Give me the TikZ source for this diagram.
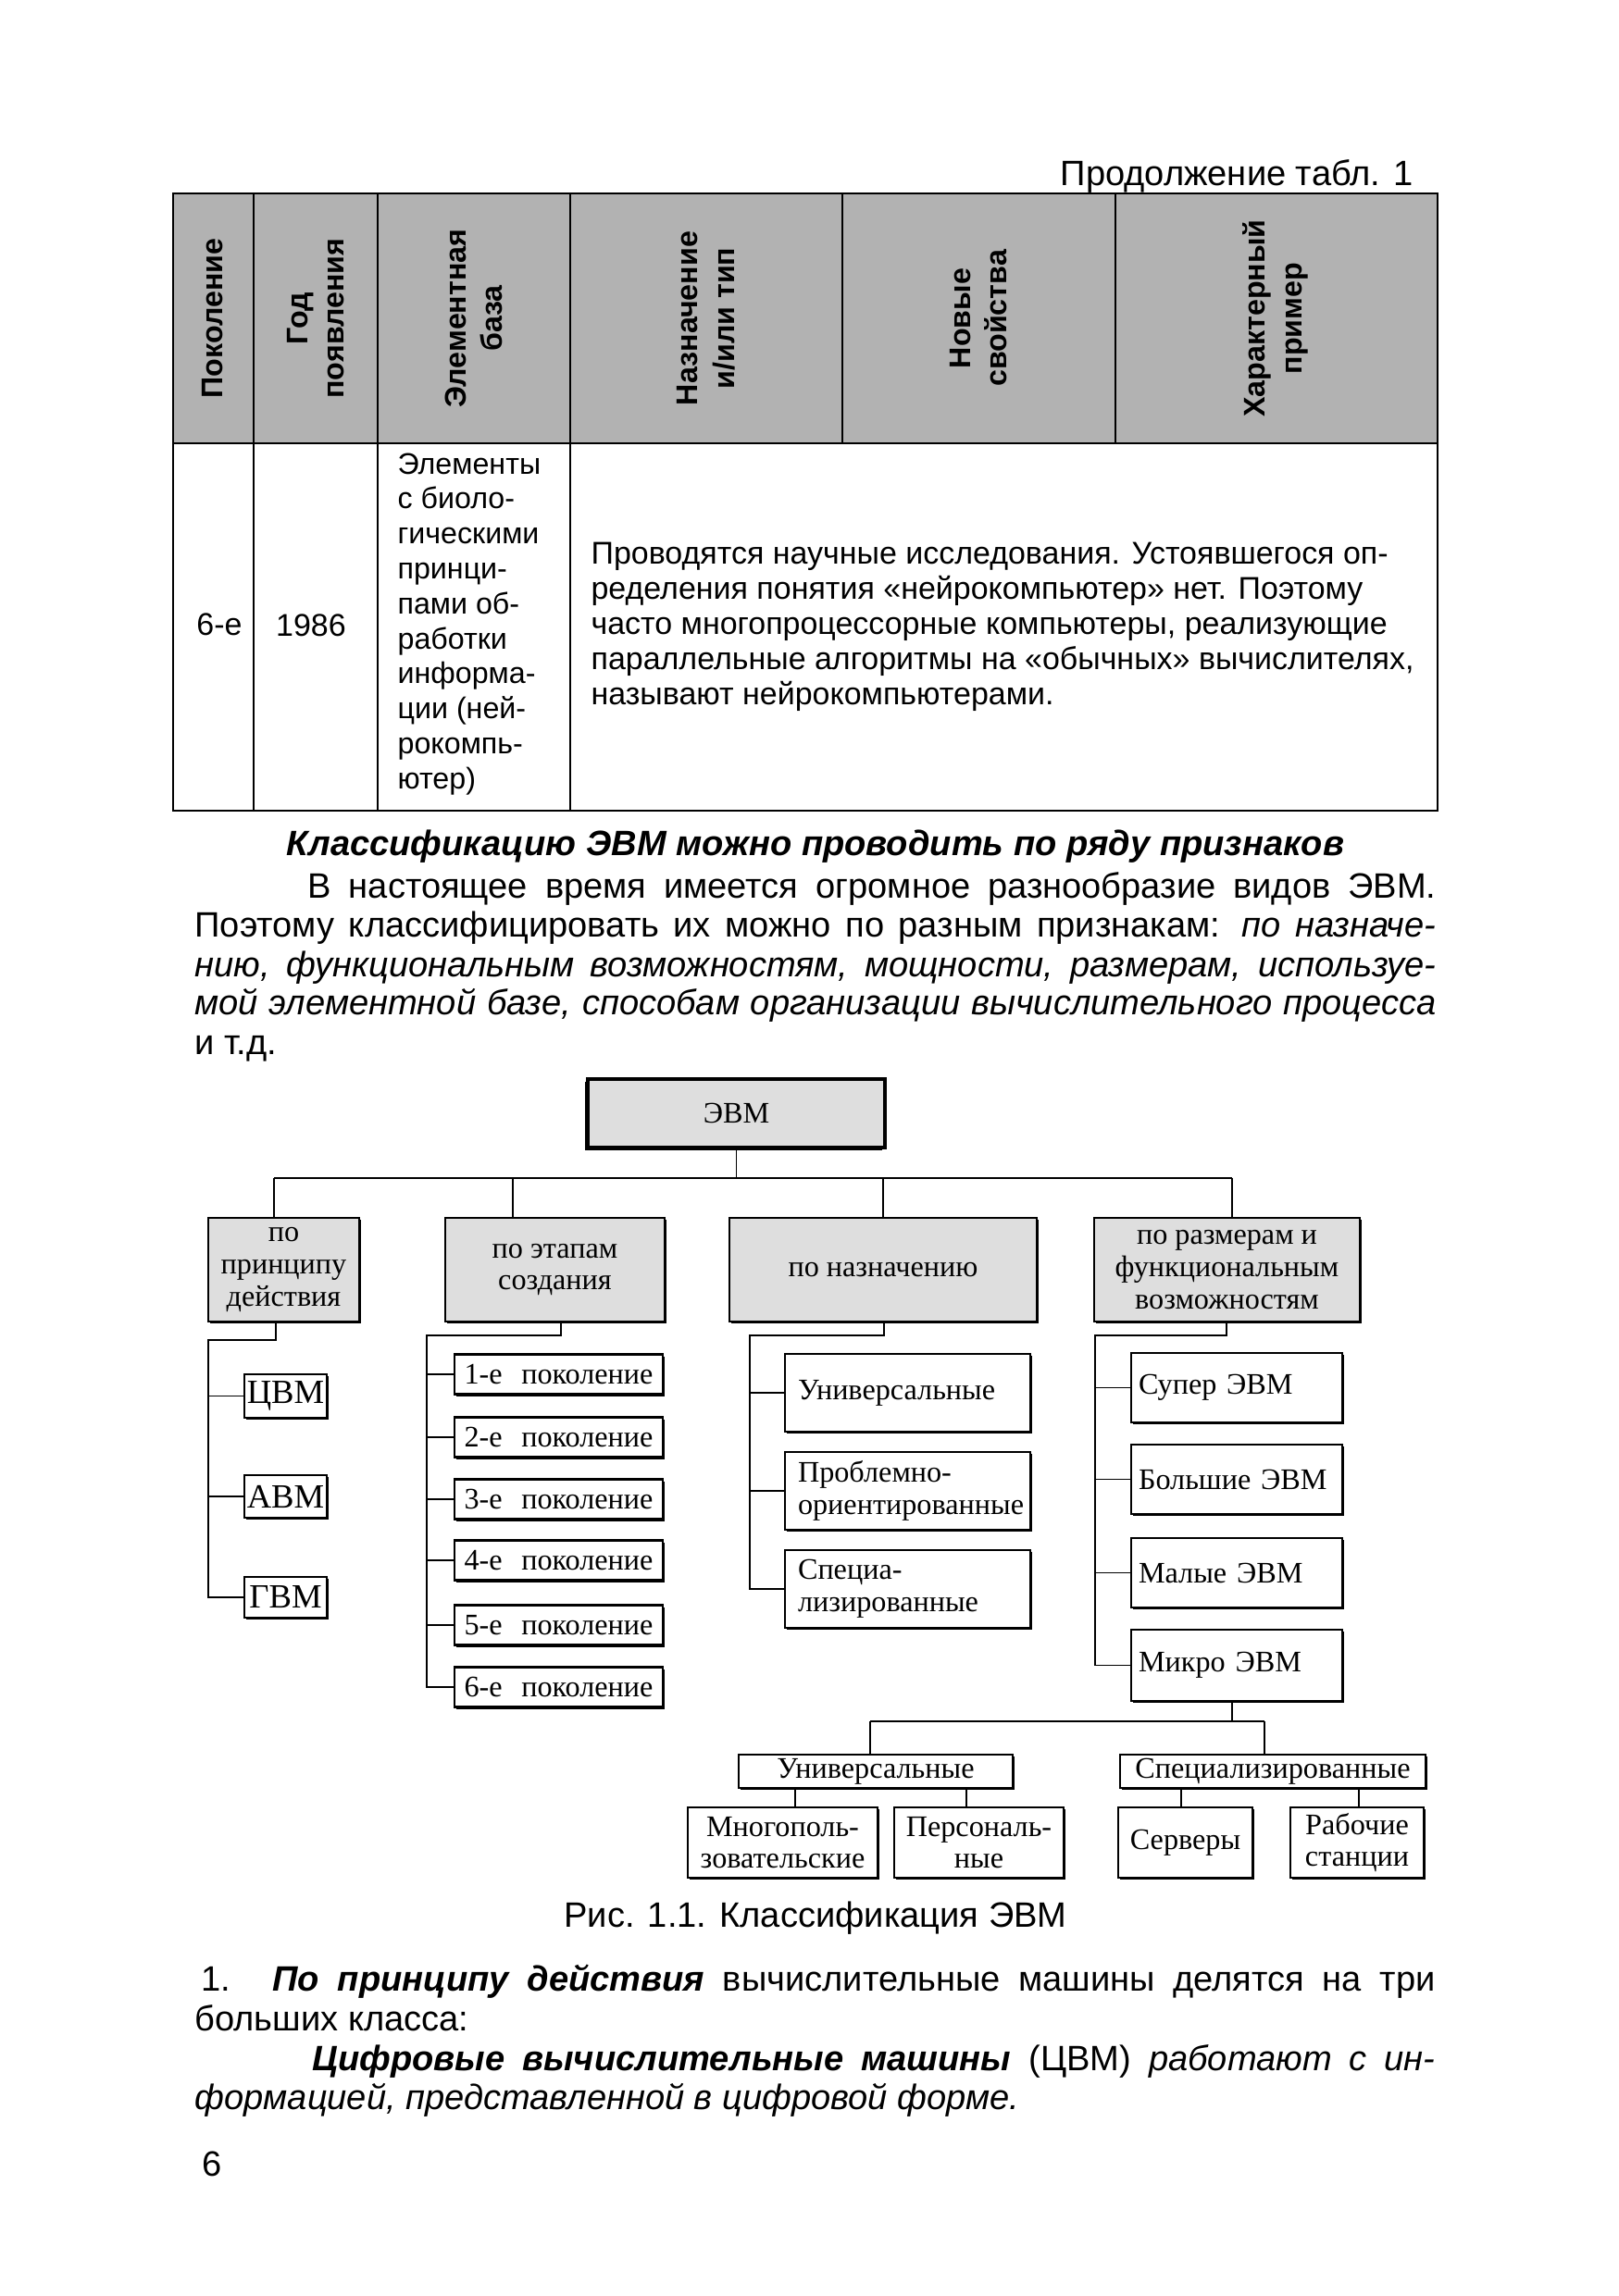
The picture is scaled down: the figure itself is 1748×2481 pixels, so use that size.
\documentclass[tikz,border=0pt]{standalone}
\usepackage{fontspec}
\setmainfont{Liberation Sans}
\newfontfamily\tmsfont{Liberation Serif}
\usetikzlibrary{shadows}
\newdimen\pxu \pxu=0.3414pt
\newcommand\bodyf{\fontsize{13pt}{15.5pt}\selectfont}
\newcommand\tabf{\fontsize{11pt}{13.5pt}\selectfont}
\newcommand\tabg{\fontsize{11.6pt}{13.5pt}\selectfont}
\newcommand\dgf{\tmsfont\fontsize{11pt}{11.8pt}\selectfont}
\begin{document}
\begin{tikzpicture}[x=0.3414pt,y=-0.3414pt,
  txt/.style={anchor=base west, inner sep=0pt, font=\bodyf},
  ttxt/.style={anchor=base west, inner sep=0pt, font=\tabf},
  mtxt/.style={anchor=base west, inner sep=0pt, font=\tabg},
  hd/.style={rotate=90, align=center, inner sep=0pt, font=\tabf\bfseries},
  conn/.style={line width=0.6pt},
  tline/.style={line width=0.8pt},
  sz/.style 2 args={minimum width=#1\pxu, minimum height=#2\pxu},
  wbox/.style={draw, line width=0.9pt, fill=white, inner sep=1pt, font=\dgf, align=center,
    drop shadow={shadow xshift=0.7pt,shadow yshift=-0.7pt,opacity=1,fill=black}},
  gbox/.style={wbox, fill=black!13},
  evmbox/.style={draw, line width=1.3pt, fill=black!13, inner sep=1pt, font=\dgf, align=center,
    drop shadow={shadow xshift=-1.1pt,shadow yshift=-1.1pt,opacity=1,fill=black}},
  lbox/.style 2 args={wbox, align=left, inner xsep=#2\pxu, text width=#1\pxu},
]
\useasboundingbox (0,0) rectangle (1748,2481);
\fill[white] (0,0) rectangle (1748,2481);

% ---------- table ----------
\node[anchor=base east, inner sep=0pt, font=\bodyf] (cont) at (1527,200) {Продолжение табл. 1};
\fill[black!30] (187,209) rectangle (1553,479);
\draw[tline] (187,209) rectangle (1553,876);
\draw[tline] (187,479) -- (1553,479);
\draw[tline] (274,209) -- (274,876);
\draw[tline] (408,209) -- (408,876);
\draw[tline] (616,209) -- (616,876);
\draw[tline] (910,209) -- (910,479);
\draw[tline] (1205,209) -- (1205,479);

\node[hd] (h1) at (230,344) {Поколение};
\node[hd] (h2) at (341,344) {Год\\появления};
\node[hd] (h3) at (512,344) {Элементная\\база};
\node[hd] (h4) at (763,344) {Назначение\\и/или тип};
\node[hd] (h5) at (1057,344) {Новые\\свойства};
\node[hd] (h6) at (1378,344) {Характерный\\пример};

\node[anchor=base, inner sep=0pt, font=\tabg] (gen) at (237,686) {6-е};
\node[anchor=base, inner sep=0pt, font=\tabg] (year) at (336,687) {1986};
\foreach \t [count=\i from 0] in {Элементы,с биоло-,гическими,принци-,пами об-,работки,информа-,ции (ней-,рокомпь-,ютер)}
  \node[ttxt] (e\i) at (429,{512+37.8*\i}) {\t};
\node[mtxt] (p1) at (638,609) {Проводятся научные исследования. Устоявшегося оп-};
\node[mtxt] (p2) at (638,647) {ределения понятия «нейрокомпьютер» нет. Поэтому};
\node[mtxt] (p3) at (638,685) {часто многопроцессорные компьютеры, реализующие};
\node[mtxt] (p4) at (638,723) {параллельные алгоритмы на «обычных» вычислителях,};
\node[mtxt] (p5) at (638,761) {называют нейрокомпьютерами.};

% ---------- text ----------
\node[anchor=base, inner sep=0pt, font=\bodyf\bfseries\itshape] (head) at (881,924) {Классификацию ЭВМ можно проводить по ряду признаков};
\node[txt] (l1) at (332,970) {\makebox[1219\pxu][s]{В настоящее время имеется огромное разнообразие видов ЭВМ.}};
\node[txt] (l2) at (210,1012) {\makebox[1341\pxu][s]{Поэтому классифицировать их можно по разным признакам: \textit{по назначе-}}};
\node[txt] (l3) at (210,1055) {\makebox[1341\pxu][s]{\textit{нию, функциональным возможностям, мощности, размерам, используе-}}};
\node[txt] (l4) at (210,1096) {\makebox[1341\pxu][s]{\textit{мой элементной базе, способам организации вычислительного процесса}}};
\node[txt] (l5) at (210,1139) {и т.д.};

% ---------- diagram ----------
\node[evmbox, sz={321}{74}] (evm) at (795.5,1203) {ЭВМ};
\node[gbox, sz={163}{112}] (b1) at (306.5,1372) {по\\принципу\\действия};
\node[gbox, sz={237}{112}] (b2) at (599.5,1372) {по этапам\\создания};
\node[gbox, sz={332}{112}] (b3) at (954,1372) {по назначению};
\node[gbox, sz={287}{112}] (b4) at (1325.5,1372) {по размерам и\\функциональным\\возможностям};

\coordinate (busL) at (296,1273);
\coordinate (bus2) at (554,1273);
\coordinate (busR) at (1331,1273);
\draw[conn] (evm.south) -- (evm.south |- busL);
\draw[conn] (busL) -- (busR);
\draw[conn] (busL) -- (busL |- b1.north);
\draw[conn] (bus2) -- (bus2 |- b2.north);
\draw[conn] (b3.north |- busL) -- (b3.north);
\draw[conn] (busR) -- (busR |- b4.north);

% branch 1
\node[wbox, sz={89}{47}, font=\tmsfont\fontsize{12.5pt}{13pt}\selectfont] (cvm) at (308.5,1508.5) {ЦВМ};
\node[wbox, sz={89}{46}, font=\tmsfont\fontsize{12.5pt}{13pt}\selectfont] (avm) at (308.5,1617) {АВМ};
\node[wbox, sz={89}{44}, font=\tmsfont\fontsize{12.5pt}{13pt}\selectfont] (gvm) at (308.5,1726) {ГВМ};
\coordinate (u1) at (298,1448);
\coordinate (t1) at (225,1448);
\draw[conn] (u1 |- b1.south) -- (u1) -- (t1) -- (t1 |- gvm.west) -- (gvm.west);
\draw[conn] (t1 |- cvm.west) -- (cvm.west);
\draw[conn] (t1 |- avm.west) -- (avm.west);

% branch 2
\foreach \n/\yy in {1/1485,2/1553,3/1620,4/1686,5/1756,6/1823}
  \node[wbox, sz={225}{43}] (g\n) at (603.5,\yy) {\makebox[204\pxu][s]{\n-е поколение}};
\coordinate (u2) at (606,1443);
\coordinate (t2) at (461,1443);
\draw[conn] (u2 |- b2.south) -- (u2) -- (t2) -- (t2 |- g6.west) -- (g6.west);
\foreach \n in {1,...,5}
  \draw[conn] (t2 |- g\n.west) -- (g\n.west);

% branch 3
\node[lbox={237}{14}, sz={265}{84}] (uni) at (980.5,1505) {Универсальные};
\node[lbox={237}{14}, sz={265}{84}] (prob) at (980.5,1611) {Проблемно-\\ориентированные};
\node[lbox={237}{14}, sz={265}{84}] (spec) at (980.5,1717) {Специа-\\лизированные};
\coordinate (u3) at (955,1443);
\coordinate (t3) at (810,1443);
\draw[conn] (u3 |- b3.south) -- (u3) -- (t3) -- (t3 |- spec.west) -- (spec.west);
\draw[conn] (t3 |- uni.west) -- (uni.west);
\draw[conn] (t3 |- prob.west) -- (prob.west);

% branch 4
\node[lbox={212}{8}, sz={228}{75}] (super) at (1336,1499.5) {Супер ЭВМ};
\node[lbox={212}{8}, sz={228}{75}] (big) at (1336,1598.5) {Большие ЭВМ};
\node[lbox={212}{8}, sz={228}{75}] (small) at (1336,1699.5) {Малые ЭВМ};
\node[lbox={212}{8}, sz={228}{77}] (micro) at (1336,1799.5) {Микро ЭВМ};
\coordinate (u4) at (1325,1443);
\coordinate (t4) at (1183,1443);
\draw[conn] (u4 |- b4.south) -- (u4) -- (t4) -- (t4 |- micro.west) -- (micro.west);
\draw[conn] (t4 |- super.west) -- (super.west);
\draw[conn] (t4 |- big.west) -- (big.west);
\draw[conn] (t4 |- small.west) -- (small.west);

% lower level
\node[wbox, sz={296}{36}] (luni) at (946,1914) {Универсальные};
\node[wbox, sz={330}{36}] (lspec) at (1375,1914) {Специализированные};
\node[wbox, sz={205}{76}] (mnog) at (845.5,1991) {Многополь-\\зовательские};
\node[wbox, sz={183}{76}] (pers) at (1057.5,1991) {Персональ-\\ные};
\node[wbox, sz={145}{76}] (serv) at (1280.5,1991) {Серверы};
\node[wbox, sz={144}{76}] (rab) at (1466,1991) {Рабочие\\станции};
\coordinate (lbL) at (940,1860);
\coordinate (lbR) at (1366,1860);
\coordinate (lbM) at (1331,1860);
\draw[conn] (lbM |- micro.south) -- (lbM);
\draw[conn] (lbL) -- (lbR);
\draw[conn] (lbL) -- (lbL |- luni.north);
\draw[conn] (lbR) -- (lbR |- lspec.north);
\coordinate (k1) at (859,1953);
\coordinate (k2) at (1044,1953);
\coordinate (k3) at (1276,1953);
\coordinate (k4) at (1468,1953);
\draw[conn] (k1 |- luni.south) -- (k1 |- mnog.north);
\draw[conn] (k2 |- luni.south) -- (k2 |- pers.north);
\draw[conn] (k3 |- lspec.south) -- (k3 |- serv.north);
\draw[conn] (k4 |- lspec.south) -- (k4 |- rab.north);

% ---------- caption and text ----------
\node[anchor=base, inner sep=0pt, font=\bodyf] (cap) at (881,2082) {Рис. 1.1. Классификация ЭВМ};
\node[txt] (n1) at (217,2151) {1.};
\node[txt] (n1b) at (294,2151) {\makebox[1256\pxu][s]{\textbf{\textit{По принципу действия}} вычислительные машины делятся на три}};
\node[txt] (n2) at (210,2194) {больших класса:};
\node[txt] (n3) at (337,2237) {\makebox[1213\pxu][s]{\textbf{\textit{Цифровые вычислительные машины}} (ЦВМ) \textit{работают с ин-}}};
\node[txt] (n4) at (210,2279) {\textit{формацией, представленной в цифровой форме.}};
\node[txt] (pg) at (218,2351) {6};
\end{tikzpicture}
\end{document}
